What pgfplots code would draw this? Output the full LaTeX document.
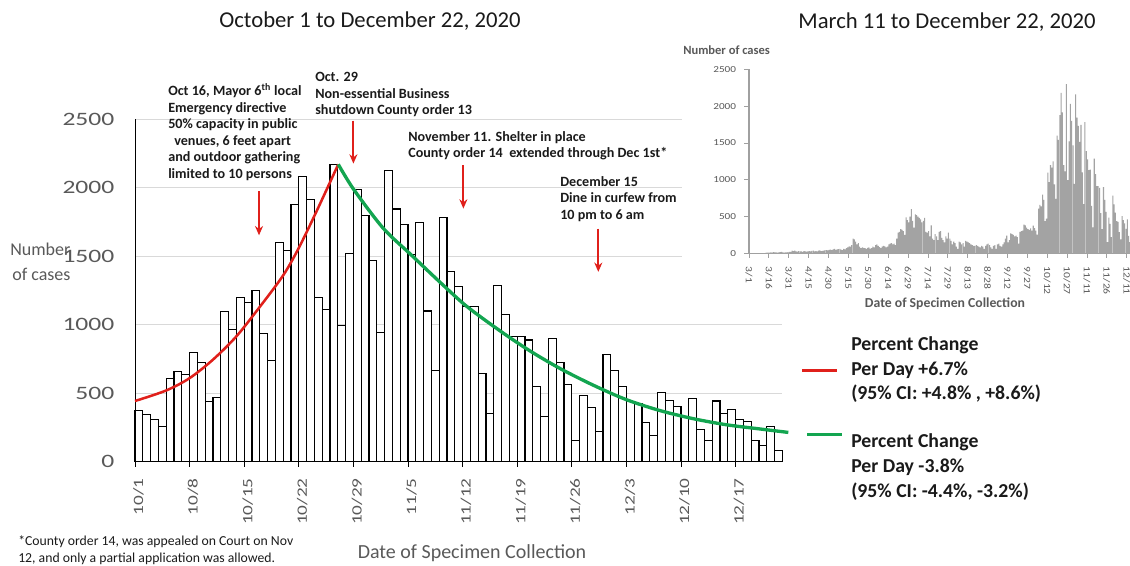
\documentclass[border=0pt]{standalone}
\usepackage{pgfplots}
\usepackage{pgfplotstable}
\pgfplotsset{compat=1.18}
\usetikzlibrary{arrows.meta}
\usepackage{fontspec}
\setmainfont{Carlito}
\newfontfamily\tickfont[FakeStretch=1.35]{Carlito}
\newfontfamily\insettickfont[FakeStretch=1.22]{Carlito}
\definecolor{txtgray}{HTML}{595959}
\definecolor{gridgray}{HTML}{D9D9D9}
\definecolor{fitred}{HTML}{E0201B}
\definecolor{fitgreen}{HTML}{13A550}
\definecolor{insetbar}{HTML}{A3A3A3}
\definecolor{insetaxis}{HTML}{A0A0A0}
\definecolor{note}{HTML}{1A1A1A}

% daily cases, Oct 1 - Dec 22 2020
\pgfplotstableread[header=false,row sep=\\]{
377\\343\\309\\255\\608\\657\\637\\796\\725\\438\\470\\1097\\968\\1199\\1165\\1250\\937\\740\\1598\\1543\\1878\\2078\\1915\\1199\\1112\\2170\\993\\1521\\1983\\1798\\1465\\944\\2122\\1844\\1732\\1513\\1744\\1100\\669\\1781\\1389\\1277\\1131\\1136\\645\\353\\1285\\1075\\912\\912\\888\\547\\328\\900\\725\\564\\153\\484\\399\\221\\783\\664\\552\\438\\426\\287\\190\\504\\450\\406\\333\\462\\238\\153\\443\\353\\384\\311\\297\\153\\119\\260\\85\\
}\octdec

% daily cases, Mar 1 - Dec 22 2020 (inset)
\pgfplotstableread[header=false,row sep=\\]{
0\\0\\0\\0\\0\\0\\0\\0\\0\\0\\
2\\3\\5\\8\\10\\8\\12\\10\\15\\12\\
14\\10\\12\\15\\18\\12\\10\\14\\16\\12\\18\\
20\\35\\30\\38\\25\\22\\30\\28\\25\\20\\30\\28\\22\\25\\30\\
28\\32\\35\\25\\30\\28\\35\\40\\30\\32\\38\\42\\45\\40\\48\\
50\\45\\55\\60\\48\\52\\58\\62\\50\\45\\60\\55\\70\\80\\95\\
90\\110\\200\\190\\160\\120\\140\\90\\70\\80\\75\\70\\60\\75\\80\\65\\
70\\90\\80\\110\\120\\100\\85\\70\\90\\100\\95\\80\\90\\120\\130\\
140\\120\\130\\110\\200\\280\\290\\330\\320\\300\\250\\490\\450\\420\\500\\
600\\440\\350\\530\\520\\500\\480\\460\\420\\440\\480\\290\\280\\300\\230\\380\\
200\\180\\260\\230\\180\\290\\300\\210\\180\\150\\230\\200\\280\\200\\170\\
120\\160\\140\\90\\60\\160\\150\\120\\140\\90\\170\\160\\150\\140\\120\\110\\
100\\100\\110\\100\\90\\80\\100\\90\\60\\100\\120\\130\\110\\80\\60\\
100\\110\\60\\120\\130\\100\\90\\120\\150\\200\\240\\150\\180\\270\\260\\
250\\230\\240\\220\\130\\290\\300\\310\\390\\380\\350\\330\\320\\340\\310\\
377\\343\\309\\255\\608\\657\\637\\796\\725\\438\\470\\1097\\968\\1199\\1165\\1250\\937\\740\\1598\\1543\\1878\\2180\\1915\\1199\\1112\\2300\\993\\1521\\2030\\1798\\1465\\944\\2160\\1844\\1732\\1513\\1744\\1100\\669\\1781\\1389\\1277\\1131\\1136\\645\\353\\1285\\1075\\912\\912\\888\\547\\328\\900\\725\\564\\153\\484\\399\\221\\783\\664\\552\\438\\426\\287\\190\\504\\450\\406\\333\\462\\238\\153\\443\\353\\384\\311\\297\\153\\119\\260\\85\\
}\marchdec

\begin{document}
\begin{tikzpicture}
\path[use as bounding box] (0pt,0pt) rectangle (847.5pt,-423.75pt);

\begin{axis}[
    at={(101.25pt,-346.3pt)}, anchor=south west,
    scale only axis, width=485.55pt, height=257pt,
    xmin=0, xmax=83, ymin=0, ymax=2500,
    axis lines*=left, axis line style={black, line width=0.6pt},
    ymajorgrids, grid style={gridgray, line width=0.8pt},
    ytick={0,500,1000,1500,2000,2500}, yticklabels={0,500,1000,1500,2000,2500},
    ytick style={draw=none},
    yticklabel style={font=\tickfont\fontsize{14.2}{14}\selectfont, text=txtgray, inner sep=0pt, xshift=-11.5pt},
    xtick={0,7,...,77},
    xticklabels={10/1,10/8,10/15,10/22,10/29,11/5,11/12,11/19,11/26,12/3,12/10,12/17},
    tick align=outside, major tick length=3.8pt,
    xtick style={black, line width=0.6pt},
    xticklabel style={font=\tickfont\fontsize{10.7}{11}\selectfont, text=txtgray, inner sep=0pt, xshift=2.6pt, yshift=-8.5pt, rotate=90, anchor=east},
    clip=false,
  ]
  \addplot[ybar, bar width=1, bar shift=0pt, fill=white, draw=black, line width=0.8pt]
    table[x expr=\coordindex+0.5, y index=0] {\octdec};
  % exponential fits
  \addplot[fitred, line width=1.9pt, smooth] coordinates {
    (0,443) (4,520) (7,610) (10,745) (13,915) (16,1130) (19,1360) (21,1560) (23.3,1830) (26.06,2170)};
  \addplot[fitgreen, line width=2.5pt, smooth] coordinates {
    (26.06,2170) (28,1990) (31.8,1705) (35.3,1515) (39.1,1310) (42.5,1135) (46.8,955) (50.6,810)
    (54.5,680) (58.7,560) (62.9,455) (67.2,375) (71.5,315) (75.8,270) (80,240) (83.76,214)};
  % event arrows
  \draw[fitred, line width=1.4pt, -{Stealth[length=7pt,width=6pt]}] (axis cs:15.9,1975) -- (axis cs:15.9,1652);
  \draw[fitred, line width=1.4pt, -{Stealth[length=7pt,width=6pt]}] (axis cs:28,2489) -- (axis cs:28,2175);
  \draw[fitred, line width=1.4pt, -{Stealth[length=7pt,width=6pt]}] (axis cs:42.1,2163) -- (axis cs:42.1,1847);
  \draw[fitred, line width=1.4pt, -{Stealth[length=7pt,width=6pt]}] (axis cs:59.4,1701) -- (axis cs:59.4,1385);
\end{axis}

\begin{scope}[x=0.75pt, y=-0.75pt]
  \fill[white] (682,38) rectangle (1130,318);
\end{scope}

\begin{axis}[
    at={(561.75pt,-189.98pt)}, anchor=south west,
    scale only axis, width=285.75pt, height=138pt,
    xmin=0, xmax=287.5, ymin=0, ymax=2500,
    axis lines*=left, axis line style={insetaxis, line width=1.1pt},
    ytick={0,500,1000,1500,2000,2500}, yticklabels={0,500,1000,1500,2000,2500},
    yticklabel style={font=\insettickfont\fontsize{6.9}{7}\selectfont, text=txtgray, inner sep=0pt, xshift=-6pt},
    xtick={0,15,...,285},
    xticklabels={3/1,3/16,3/31,4/15,4/30,5/15,5/30,6/14,6/29,7/14,7/29,8/13,8/28,9/12,9/27,10/12,10/27,11/11,11/26,12/11},
    xticklabel style={font=\insettickfont\fontsize{7.1}{7}\selectfont, text=txtgray, inner sep=0pt, yshift=-6.5pt, rotate=-90, anchor=west},
    tick align=outside, major tick length=3.5pt,
    tick style={insetaxis, line width=0.6pt},
  ]
  \addplot[ybar, bar width=0.8, bar shift=0pt, fill=insetbar, draw=none]
    table[x expr=\coordindex+0.5, y index=0] {\marchdec};
\end{axis}

\begin{scope}[x=0.75pt, y=-0.75pt]
  % titles
  \node[anchor=base, font=\fontsize{17}{20}\selectfont, text=note] at (370,27) {October 1 to December 22, 2020};
  \node[anchor=base, font=\fontsize{17}{20}\selectfont, text=note] at (947,28) {March 11 to December 22, 2020};
  % axis titles
  \node[anchor=base west, inner sep=0pt, font=\fontsize{13.5}{16}\selectfont, text=txtgray] at (10,255.8) {Number};
  \node[anchor=base west, inner sep=0pt, font=\fontsize{13.5}{16}\selectfont, text=txtgray] at (12,280.8) {of cases};
  \node[anchor=base, font=\fontsize{15}{18}\selectfont, text=txtgray] at (472,558.5) {Date of Specimen Collection};
  \node[anchor=base west, inner sep=0pt, font=\bfseries\fontsize{9.4}{11}\selectfont, text=txtgray] at (683,54) {Number of cases};
  \node[anchor=base, font=\bfseries\fontsize{10.3}{12}\selectfont, text=txtgray] at (945,307.4) {Date of Specimen Collection};
  % event notes
  \tikzset{ev/.style={anchor=base west, inner sep=0pt, font=\bfseries\fontsize{10.6}{12.5}\selectfont, text=note}}
  \node[ev] at (168,95.5) {Oct 16, Mayor 6\textsuperscript{th} local};
  \node[ev] at (168,112) {Emergency directive};
  \node[ev] at (168,128.5) {50\% capacity in public};
  \node[ev] at (174,145.2) {venues, 6 feet apart};
  \node[ev] at (168,161.8) {and outdoor gathering};
  \node[ev] at (168,178.5) {limited to 10 persons};
  \node[ev] at (315,81.5) {Oct. 29};
  \node[ev] at (315,98) {Non-essential Business};
  \node[ev] at (315,114.5) {shutdown County order 13};
  \node[ev] at (408,141.2) {November 11. Shelter in place};
  \node[ev] at (408,157.8) {County order 14 \ extended through Dec 1st*};
  \node[ev] at (560,186.2) {December 15};
  \node[ev] at (560,202.8) {Dine in curfew from};
  \node[ev] at (560,219.5) {10 pm to 6 am};
  % legend
  \draw[fitred, line width=2.25pt] (802,370) -- (837,370);
  \draw[fitgreen, line width=2.4pt] (807,434.3) -- (842,434.3);
  \tikzset{lg/.style={anchor=base west, inner sep=0pt, font=\bfseries\fontsize{14.8}{18}\selectfont, text=note}}
  \node[lg] at (851,350.3) {Percent Change};
  \node[lg] at (851,375.6) {Per Day +6.7\%};
  \node[lg] at (851,399) {(95\% CI: +4.8\% , +8.6\%)};
  \node[lg] at (851,447) {Percent Change};
  \node[lg] at (851,472.3) {Per Day -3.8\%};
  \node[lg] at (851,497) {(95\% CI: -4.4\%, -3.2\%)};
  % footnote
  \tikzset{fn/.style={anchor=base west, inner sep=0pt, font=\fontsize{10.3}{12}\selectfont, text=note}}
  \node[fn] at (18,545.5) {*County order 14, was appealed on Court on Nov};
  \node[fn] at (18,562.5) {12, and only a partial application was allowed.};
\end{scope}
\end{tikzpicture}
\end{document}
